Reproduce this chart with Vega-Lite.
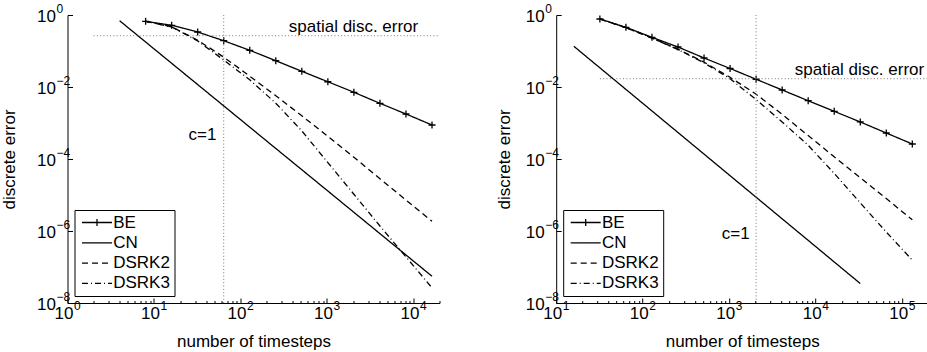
{
  "$schema": "https://vega.github.io/schema/vega-lite/v6.json",
  "background": "white",
  "padding": {"left": 0.5, "top": 2, "right": 0, "bottom": 0},
  "datasets": {
    "L": [
      {"method": "BE", "n": 8, "err": 0.668}, {"method": "BE", "n": 16, "err": 0.517}, {"method": "BE", "n": 32, "err": 0.337}, {"method": "BE", "n": 64, "err": 0.193}, {"method": "BE", "n": 128, "err": 0.1045}, {"method": "BE", "n": 256, "err": 0.0538}, {"method": "BE", "n": 512, "err": 0.0273}, {"method": "BE", "n": 1024, "err": 0.014}, {"method": "BE", "n": 2048, "err": 0.00713}, {"method": "BE", "n": 4096, "err": 0.00352}, {"method": "BE", "n": 8192, "err": 0.00178}, {"method": "BE", "n": 16384, "err": 0.00088},
      {"method": "CN", "n": 4, "err": 0.695}, {"method": "CN", "n": 8, "err": 0.178}, {"method": "CN", "n": 16, "err": 0.0456}, {"method": "CN", "n": 32, "err": 0.01167}, {"method": "CN", "n": 64, "err": 0.00299}, {"method": "CN", "n": 128, "err": 0.000766}, {"method": "CN", "n": 256, "err": 0.000196}, {"method": "CN", "n": 512, "err": 5.03e-5}, {"method": "CN", "n": 1024, "err": 1.29e-5}, {"method": "CN", "n": 2048, "err": 3.3e-6}, {"method": "CN", "n": 4096, "err": 8.45e-7}, {"method": "CN", "n": 8192, "err": 2.16e-7}, {"method": "CN", "n": 16384, "err": 5.54e-8},
      {"method": "DSRK2", "n": 8, "err": 0.668}, {"method": "DSRK2", "n": 16, "err": 0.468}, {"method": "DSRK2", "n": 32, "err": 0.1995}, {"method": "DSRK2", "n": 64, "err": 0.0676}, {"method": "DSRK2", "n": 128, "err": 0.01995}, {"method": "DSRK2", "n": 256, "err": 0.00575}, {"method": "DSRK2", "n": 512, "err": 0.00158}, {"method": "DSRK2", "n": 1024, "err": 0.000427}, {"method": "DSRK2", "n": 2048, "err": 0.000112}, {"method": "DSRK2", "n": 4096, "err": 2.82e-5}, {"method": "DSRK2", "n": 8192, "err": 7.24e-6}, {"method": "DSRK2", "n": 16384, "err": 1.86e-6},
      {"method": "DSRK3", "n": 8, "err": 0.668}, {"method": "DSRK3", "n": 16, "err": 0.468}, {"method": "DSRK3", "n": 32, "err": 0.1905}, {"method": "DSRK3", "n": 64, "err": 0.0562}, {"method": "DSRK3", "n": 128, "err": 0.01585}, {"method": "DSRK3", "n": 256, "err": 0.00355}, {"method": "DSRK3", "n": 512, "err": 0.000603}, {"method": "DSRK3", "n": 1024, "err": 7.94e-5}, {"method": "DSRK3", "n": 2048, "err": 1.05e-5}, {"method": "DSRK3", "n": 4096, "err": 1.38e-6}, {"method": "DSRK3", "n": 8192, "err": 1.91e-7}, {"method": "DSRK3", "n": 16384, "err": 2.63e-8}
    ],
    "R": [
      {"method": "BE", "n": 32, "err": 0.774}, {"method": "BE", "n": 64, "err": 0.455}, {"method": "BE", "n": 128, "err": 0.24}, {"method": "BE", "n": 256, "err": 0.129}, {"method": "BE", "n": 512, "err": 0.064}, {"method": "BE", "n": 1024, "err": 0.0327}, {"method": "BE", "n": 2048, "err": 0.0164}, {"method": "BE", "n": 4096, "err": 0.00826}, {"method": "BE", "n": 8192, "err": 0.00416}, {"method": "BE", "n": 16384, "err": 0.00211}, {"method": "BE", "n": 32768, "err": 0.00107}, {"method": "BE", "n": 65536, "err": 0.000527}, {"method": "BE", "n": 131072, "err": 0.000261},
      {"method": "CN", "n": 16, "err": 0.1352}, {"method": "CN", "n": 32, "err": 0.034}, {"method": "CN", "n": 64, "err": 0.00857}, {"method": "CN", "n": 128, "err": 0.00216}, {"method": "CN", "n": 256, "err": 0.000543}, {"method": "CN", "n": 512, "err": 0.0001368}, {"method": "CN", "n": 1024, "err": 3.44e-5}, {"method": "CN", "n": 2048, "err": 8.67e-6}, {"method": "CN", "n": 4096, "err": 2.18e-6}, {"method": "CN", "n": 8192, "err": 5.5e-7}, {"method": "CN", "n": 16384, "err": 1.38e-7}, {"method": "CN", "n": 32768, "err": 3.48e-8},
      {"method": "DSRK2", "n": 32, "err": 0.774}, {"method": "DSRK2", "n": 64, "err": 0.447}, {"method": "DSRK2", "n": 128, "err": 0.229}, {"method": "DSRK2", "n": 256, "err": 0.112}, {"method": "DSRK2", "n": 512, "err": 0.049}, {"method": "DSRK2", "n": 1024, "err": 0.0186}, {"method": "DSRK2", "n": 2048, "err": 0.00631}, {"method": "DSRK2", "n": 4096, "err": 0.00174}, {"method": "DSRK2", "n": 8192, "err": 0.000447}, {"method": "DSRK2", "n": 16384, "err": 0.000115}, {"method": "DSRK2", "n": 32768, "err": 3.02e-5}, {"method": "DSRK2", "n": 65536, "err": 7.94e-6}, {"method": "DSRK2", "n": 131072, "err": 2.04e-6},
      {"method": "DSRK3", "n": 32, "err": 0.774}, {"method": "DSRK3", "n": 64, "err": 0.447}, {"method": "DSRK3", "n": 128, "err": 0.229}, {"method": "DSRK3", "n": 256, "err": 0.1096}, {"method": "DSRK3", "n": 512, "err": 0.0468}, {"method": "DSRK3", "n": 1024, "err": 0.017}, {"method": "DSRK3", "n": 2048, "err": 0.00447}, {"method": "DSRK3", "n": 4096, "err": 0.00107}, {"method": "DSRK3", "n": 8192, "err": 0.00024}, {"method": "DSRK3", "n": 16384, "err": 3.98e-5}, {"method": "DSRK3", "n": 32768, "err": 6.03e-6}, {"method": "DSRK3", "n": 65536, "err": 9.33e-7}, {"method": "DSRK3", "n": 131072, "err": 1.55e-7}
    ],
    "LT": [{"label": "spatial disc. error", "x": 362, "y": 0.457}, {"label": "c=1", "x": 52.8, "y": 0.000457}],
    "RT": [{"label": "spatial disc. error", "x": 5730, "y": 0.03}, {"label": "c=1", "x": 1726, "y": 8.3e-7}],
    "LR": [{"x": 2, "x2": 20000, "y": 0.266, "y2": 0.266}, {"x": 64, "x2": 64, "y": 1e-8, "y2": 1}],
    "RR": [{"x": 32, "x2": 200000, "y": 0.017, "y2": 0.017}, {"x": 2048, "x2": 2048, "y": 1e-8, "y2": 1}]
  },
  "spacing": 54.7,
  "resolve": {"scale": {"strokeDash": "independent"}, "legend": {"strokeDash": "independent"}},
  "hconcat": [
    {
      "width": 372, "height": 288,
      "resolve": {"axis": {"x": "independent", "y": "independent"}},
      "layer": [
        {
          "layer": [
            {
              "data": {"name": "L"},
              "mark": {"type": "line", "color": "black", "strokeWidth": 1.3},
              "encoding": {
                "x": {"field": "n", "type": "quantitative", "scale": {"type": "log", "domain": [1, 20000], "nice": false},
                  "axis": {"orient": "bottom", "values": [1, 10, 100, 1000, 10000], "title": "number of timesteps", "labelExpr": "'10'", "labelOffset": -4, "labelPadding": 7.7}},
                "y": {"field": "err", "type": "quantitative", "scale": {"type": "log", "domain": [1e-8, 1], "nice": false},
                  "axis": {"orient": "left", "values": [1e-8, 1e-6, 1e-4, 1e-2, 1], "title": "discrete error", "titlePadding": 17.6, "labelExpr": "'10'", "labelPadding": 17, "labelOffset": 1.5}},
                "strokeDash": {"field": "method", "type": "nominal",
                  "scale": {"domain": ["BE", "CN", "DSRK2", "DSRK3"], "range": [[1, 0], [1, 0], [6, 4], [6, 3, 1, 3]]},
                  "legend": {"orient": "bottom-left", "offset": 7, "title": null, "padding": 4, "fillColor": "white", "strokeColor": "black",
                    "labelFont": "Liberation Sans", "labelFontSize": 17, "labelColor": "black",
                    "symbolType": "M-3,0H3", "symbolSize": 100, "symbolStrokeWidth": 1.3, "symbolStrokeColor": "black",
                    "symbolOffset": 10, "labelOffset": 7.7, "rowPadding": 2.3,
                    "encode": {"symbols": {"update": {"shape": {"signal": "datum.value === 'BE' ? 'M-3,0H3M0,-0.7V0.7' : 'M-3,0H3'"}}}}}}
              }
            },
            {
              "data": {"name": "L"},
              "transform": [{"filter": "datum.method === 'BE'"}],
              "mark": {"type": "point", "shape": "M-1,0H1M0,-1V1", "size": 49, "filled": false, "color": "black", "strokeWidth": 1.3, "opacity": 1},
              "encoding": {
                "x": {"field": "n", "type": "quantitative", "scale": {"type": "log"}},
                "y": {"field": "err", "type": "quantitative", "scale": {"type": "log"}}
              }
            },
            {
              "data": {"name": "LT"},
              "transform": [{"filter": "datum.label === 'c=1'"}],
              "mark": {"type": "text", "align": "right", "baseline": "middle", "font": "Liberation Sans", "fontSize": 17, "color": "black"},
              "encoding": {
                "x": {"field": "x", "type": "quantitative", "scale": {"type": "log"}},
                "y": {"field": "y", "type": "quantitative", "scale": {"type": "log"}},
                "text": {"field": "label"}
              }
            }
          ]
        },
        {
          "data": {"name": "LR"},
          "mark": {"type": "rule", "color": "#777", "strokeWidth": 1, "strokeDash": [1, 2.3]},
          "encoding": {
            "x": {"field": "x", "type": "quantitative", "scale": {"type": "log"},
              "axis": {"orient": "bottom", "values": [2,3,4,5,6,7,8,9,20,30,40,50,60,70,80,90,200,300,400,500,600,700,800,900,2000,3000,4000,5000,6000,7000,8000,9000,20000],
                "labels": false, "domain": false, "tickSize": -2.5, "title": null}},
            "x2": {"field": "x2"},
            "y": {"field": "y", "type": "quantitative", "scale": {"type": "log"},
              "axis": {"orient": "left", "values": [1e-8, 1e-6, 1e-4, 1e-2, 1], "title": null, "domain": false, "ticks": false, "tickSize": 0,
                "labelExpr": "(datum.value < 0.5 ? '−' : '') + abs(round(log(datum.value)/LN10))", "labelAlign": "left", "labelPadding": 11.5, "labelOffset": -6.5, "labelFontSize": 12}},
            "y2": {"field": "y2"}
          }
        },
        {
          "data": {"name": "LT"},
          "transform": [{"filter": "datum.label !== 'c=1'"}],
          "mark": {"type": "text", "align": "left", "baseline": "middle", "font": "Liberation Sans", "fontSize": 17, "color": "black"},
          "encoding": {
            "x": {"field": "x", "type": "quantitative", "scale": {"type": "log"},
              "axis": {"orient": "bottom", "values": [1, 10, 100, 1000, 10000], "title": null, "domain": false, "ticks": false, "tickSize": 0,
                "labelExpr": "(datum.value < 0.5 ? '−' : '') + abs(round(log(datum.value)/LN10))", "labelAlign": "left", "labelBaseline": "top", "labelPadding": -2.5, "labelOffset": 6, "labelFontSize": 12}},
            "y": {"field": "y", "type": "quantitative", "scale": {"type": "log"}, "axis": null},
            "text": {"field": "label"}
          }
        }
      ]
    },
    {
      "width": 372, "height": 288,
      "resolve": {"axis": {"x": "independent", "y": "independent"}},
      "layer": [
        {
          "layer": [
            {
              "data": {"name": "R"},
              "mark": {"type": "line", "color": "black", "strokeWidth": 1.3},
              "encoding": {
                "x": {"field": "n", "type": "quantitative", "scale": {"type": "log", "domain": [10, 200000], "nice": false},
                  "axis": {"orient": "bottom", "values": [10, 100, 1000, 10000, 100000], "title": "number of timesteps", "labelExpr": "'10'", "labelOffset": -4, "labelPadding": 7.7}},
                "y": {"field": "err", "type": "quantitative", "scale": {"type": "log", "domain": [1e-8, 1], "nice": false},
                  "axis": {"orient": "left", "values": [1e-8, 1e-6, 1e-4, 1e-2, 1], "title": "discrete error", "titlePadding": 11.6, "labelExpr": "'10'", "labelPadding": 17, "labelOffset": 1.5}},
                "strokeDash": {"field": "method", "type": "nominal",
                  "scale": {"domain": ["BE", "CN", "DSRK2", "DSRK3"], "range": [[1, 0], [1, 0], [6, 4], [6, 3, 1, 3]]},
                  "legend": {"orient": "bottom-left", "offset": 7, "title": null, "padding": 4, "fillColor": "white", "strokeColor": "black",
                    "labelFont": "Liberation Sans", "labelFontSize": 17, "labelColor": "black",
                    "symbolType": "M-3,0H3", "symbolSize": 100, "symbolStrokeWidth": 1.3, "symbolStrokeColor": "black",
                    "symbolOffset": 10, "labelOffset": 7.7, "rowPadding": 2.3,
                    "encode": {"symbols": {"update": {"shape": {"signal": "datum.value === 'BE' ? 'M-3,0H3M0,-0.7V0.7' : 'M-3,0H3'"}}}}}}
              }
            },
            {
              "data": {"name": "R"},
              "transform": [{"filter": "datum.method === 'BE'"}],
              "mark": {"type": "point", "shape": "M-1,0H1M0,-1V1", "size": 49, "filled": false, "color": "black", "strokeWidth": 1.3, "opacity": 1},
              "encoding": {
                "x": {"field": "n", "type": "quantitative", "scale": {"type": "log"}},
                "y": {"field": "err", "type": "quantitative", "scale": {"type": "log"}}
              }
            },
            {
              "data": {"name": "RT"},
              "transform": [{"filter": "datum.label === 'c=1'"}],
              "mark": {"type": "text", "align": "right", "baseline": "middle", "font": "Liberation Sans", "fontSize": 17, "color": "black"},
              "encoding": {
                "x": {"field": "x", "type": "quantitative", "scale": {"type": "log"}},
                "y": {"field": "y", "type": "quantitative", "scale": {"type": "log"}},
                "text": {"field": "label"}
              }
            }
          ]
        },
        {
          "data": {"name": "RR"},
          "mark": {"type": "rule", "color": "#777", "strokeWidth": 1, "strokeDash": [1, 2.3]},
          "encoding": {
            "x": {"field": "x", "type": "quantitative", "scale": {"type": "log"},
              "axis": {"orient": "bottom", "values": [20,30,40,50,60,70,80,90,200,300,400,500,600,700,800,900,2000,3000,4000,5000,6000,7000,8000,9000,20000,30000,40000,50000,60000,70000,80000,90000,200000],
                "labels": false, "domain": false, "tickSize": -2.5, "title": null}},
            "x2": {"field": "x2"},
            "y": {"field": "y", "type": "quantitative", "scale": {"type": "log"},
              "axis": {"orient": "left", "values": [1e-8, 1e-6, 1e-4, 1e-2, 1], "title": null, "domain": false, "ticks": false, "tickSize": 0,
                "labelExpr": "(datum.value < 0.5 ? '−' : '') + abs(round(log(datum.value)/LN10))", "labelAlign": "left", "labelPadding": 11.5, "labelOffset": -6.5, "labelFontSize": 12}},
            "y2": {"field": "y2"}
          }
        },
        {
          "data": {"name": "RT"},
          "transform": [{"filter": "datum.label !== 'c=1'"}],
          "mark": {"type": "text", "align": "left", "baseline": "middle", "font": "Liberation Sans", "fontSize": 17, "color": "black"},
          "encoding": {
            "x": {"field": "x", "type": "quantitative", "scale": {"type": "log"},
              "axis": {"orient": "bottom", "values": [10, 100, 1000, 10000, 100000], "title": null, "domain": false, "ticks": false, "tickSize": 0,
                "labelExpr": "(datum.value < 0.5 ? '−' : '') + abs(round(log(datum.value)/LN10))", "labelAlign": "left", "labelBaseline": "top", "labelPadding": -2.5, "labelOffset": 6, "labelFontSize": 12}},
            "y": {"field": "y", "type": "quantitative", "scale": {"type": "log"}, "axis": null},
            "text": {"field": "label"}
          }
        }
      ]
    }
  ],
  "config": {
    "view": {"stroke": null},
    "axis": {"domainColor": "black", "domainWidth": 1, "tickColor": "black", "tickWidth": 1, "grid": false,
      "labelFont": "Liberation Sans", "labelFontSize": 17, "labelColor": "black", "labelOverlap": false,
      "titleFont": "Liberation Sans", "titleFontSize": 17, "titleFontWeight": "normal", "titleColor": "black"},
    "axisX": {"tickSize": -5, "titlePadding": 12, "labelFlush": false},
    "axisY": {"tickSize": -5}
  }
}
